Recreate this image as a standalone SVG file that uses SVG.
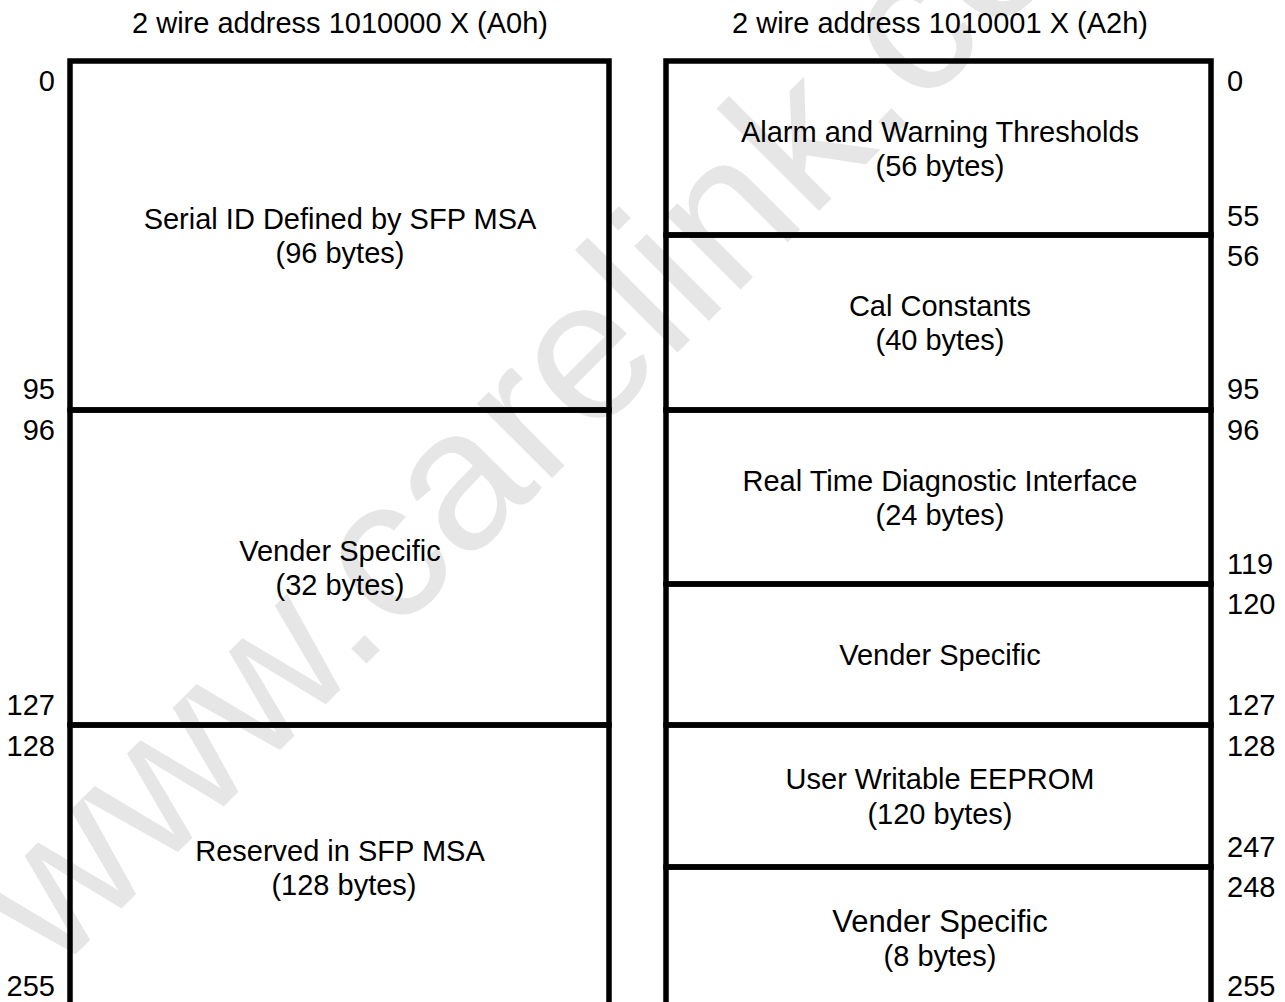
<svg xmlns="http://www.w3.org/2000/svg" width="1285" height="1002" viewBox="0 0 1285 1002">
  <style>
    text { font-family: "Liberation Sans", Arial, sans-serif; fill: #000; }
    .t { font-size: 29px; text-anchor: middle; }
    .lbl { font-size: 29px; text-anchor: middle; }
    .big { font-size: 31px; text-anchor: middle; }
    .nl { font-size: 29px; text-anchor: end; }
    .nr { font-size: 29px; text-anchor: start; }
    .box { fill: none; stroke: #000; stroke-width: 5.5; }
    .wm { font-size: 200px; fill: #e6e6e6; }
  </style>
  <rect width="1285" height="1002" fill="#fff"/>
  <g id="watermark">
    <text class="wm" x="55" y="975" transform="rotate(-45 55 975)">www.carelink.com</text>
  </g>
  <g id="titles">
    <text class="t" x="340" y="33">2 wire address 1010000 X (A0h)</text>
    <text class="t" x="940" y="33">2 wire address 1010001 X (A2h)</text>
  </g>
  <g id="a0-serial-id">
    <rect class="box" x="70" y="61" width="539" height="349"/>
    <text class="lbl" x="340" y="229">Serial ID Defined by SFP MSA</text>
    <text class="lbl" x="340" y="263">(96 bytes)</text>
  </g>
  <g id="a0-vender">
    <rect class="box" x="70" y="410" width="539" height="315"/>
    <text class="lbl" x="340" y="561">Vender Specific</text>
    <text class="lbl" x="340" y="595">(32 bytes)</text>
  </g>
  <g id="a0-reserved">
    <rect class="box" x="70" y="725" width="539" height="300"/>
    <text class="lbl" x="340" y="861">Reserved in SFP MSA</text>
    <text class="lbl" x="344" y="895">(128 bytes)</text>
  </g>
  <g id="a2-alarm">
    <rect class="box" x="666" y="61" width="545" height="174"/>
    <text class="lbl" x="940" y="142">Alarm and Warning Thresholds</text>
    <text class="lbl" x="940" y="176">(56 bytes)</text>
  </g>
  <g id="a2-cal">
    <rect class="box" x="666" y="235" width="545" height="175"/>
    <text class="lbl" x="940" y="316">Cal Constants</text>
    <text class="lbl" x="940" y="350">(40 bytes)</text>
  </g>
  <g id="a2-diag">
    <rect class="box" x="666" y="410" width="545" height="174"/>
    <text class="lbl" x="940" y="491">Real Time Diagnostic Interface</text>
    <text class="lbl" x="940" y="525">(24 bytes)</text>
  </g>
  <g id="a2-vender1">
    <rect class="box" x="666" y="584" width="545" height="141"/>
    <text class="lbl" x="940" y="665">Vender Specific</text>
  </g>
  <g id="a2-user">
    <rect class="box" x="666" y="725" width="545" height="142"/>
    <text class="lbl" x="940" y="789">User Writable EEPROM</text>
    <text class="lbl" x="940" y="824">(120 bytes)</text>
  </g>
  <g id="a2-vender2">
    <rect class="box" x="666" y="867" width="545" height="160"/>
    <text class="big" x="940" y="932">Vender Specific</text>
    <text class="lbl" x="940" y="966">(8 bytes)</text>
  </g>
  <g id="offsets-left">
    <text class="nl" x="55" y="91">0</text>
    <text class="nl" x="55" y="399">95</text>
    <text class="nl" x="55" y="440">96</text>
    <text class="nl" x="55" y="715">127</text>
    <text class="nl" x="55" y="756">128</text>
    <text class="nl" x="55" y="996">255</text>
  </g>
  <g id="offsets-right">
    <text class="nr" x="1227" y="91">0</text>
    <text class="nr" x="1227" y="226">55</text>
    <text class="nr" x="1227" y="266">56</text>
    <text class="nr" x="1227" y="399">95</text>
    <text class="nr" x="1227" y="440">96</text>
    <text class="nr" x="1227" y="574">119</text>
    <text class="nr" x="1227" y="614">120</text>
    <text class="nr" x="1227" y="715">127</text>
    <text class="nr" x="1227" y="756">128</text>
    <text class="nr" x="1227" y="857">247</text>
    <text class="nr" x="1227" y="897">248</text>
    <text class="nr" x="1227" y="996">255</text>
  </g>
</svg>
